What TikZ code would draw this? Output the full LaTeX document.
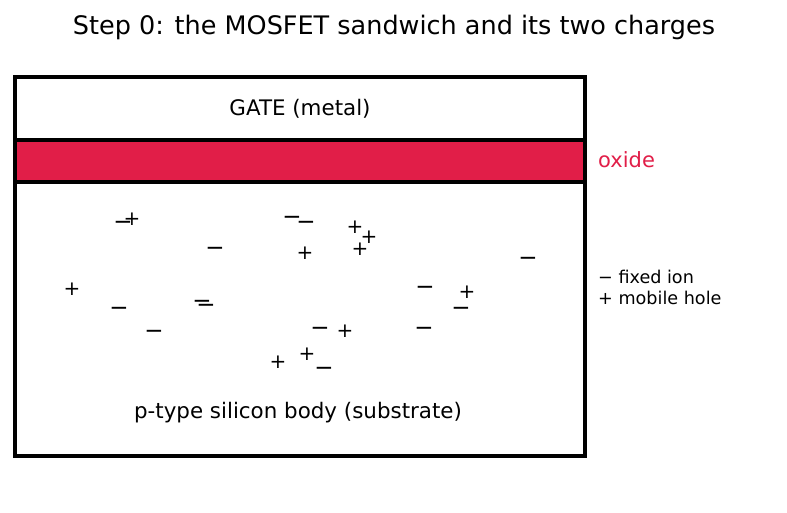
\documentclass[tikz,border=0pt]{standalone}
\usepackage{fontspec}
\setmainfont{DejaVu Sans}
\usetikzlibrary{positioning}
\definecolor{oxide}{HTML}{E11E48}
\tikzset{
  layer/.style={draw,line width=4pt,minimum width=570pt,inner sep=0pt,outer sep=0pt,anchor=north west},
  chg/.style={inner sep=0pt,text height=14.2pt,text depth=0pt,font=\fontsize{20}{20}\selectfont},
  neg/.style={chg,font=\fontsize{23}{23}\selectfont,text height=16.3pt},
}

\begin{document}
\begin{tikzpicture}[x=1pt,y=-1pt]
\useasboundingbox (0,0) rectangle (787,512);
\node (title) at (394,27.5) {\fontsize{25.5}{28}\selectfont Step 0: the MOSFET sandwich and its two charges};
% the three layers
\node[layer,minimum height=63pt,font=\fontsize{21.4}{24}\selectfont] (gate) at (15,77) {GATE (metal)};
\node[layer,fill=oxide,minimum height=42pt] (ox) at (15,140) {};
\node[layer,minimum height=274pt] (body) at (15,182) {};
\node[font=\fontsize{21.4}{24}\selectfont] (subst) at (298,413) {p-type silicon body (substrate)};
% side labels
\node[anchor=west,inner sep=0pt,text=oxide,font=\fontsize{21}{24}\selectfont] (oxlbl) at (598,160) {oxide};
\node[anchor=west,inner sep=0pt,align=left,font=\fontsize{17.6}{21}\selectfont] (legend) at (598,287) {− fixed ion\\+ mobile hole};
% charges in the body
\foreach \x/\y [count=\i] in {123/221,292/216,306/221,215/247,119/307,202/300,206/304,154/330,528/257,425/286,461/307,320/327,424/327,324/367}
  \node[neg] (m\i) at (\x,\y) {−};
\foreach \x/\y [count=\i] in {132/218,305/252,72/288,355/226,369/236,360/248,467/291,345/330,307/353,278/361}
  \node[chg] (p\i) at (\x,\y) {+};
\end{tikzpicture}
\end{document}
